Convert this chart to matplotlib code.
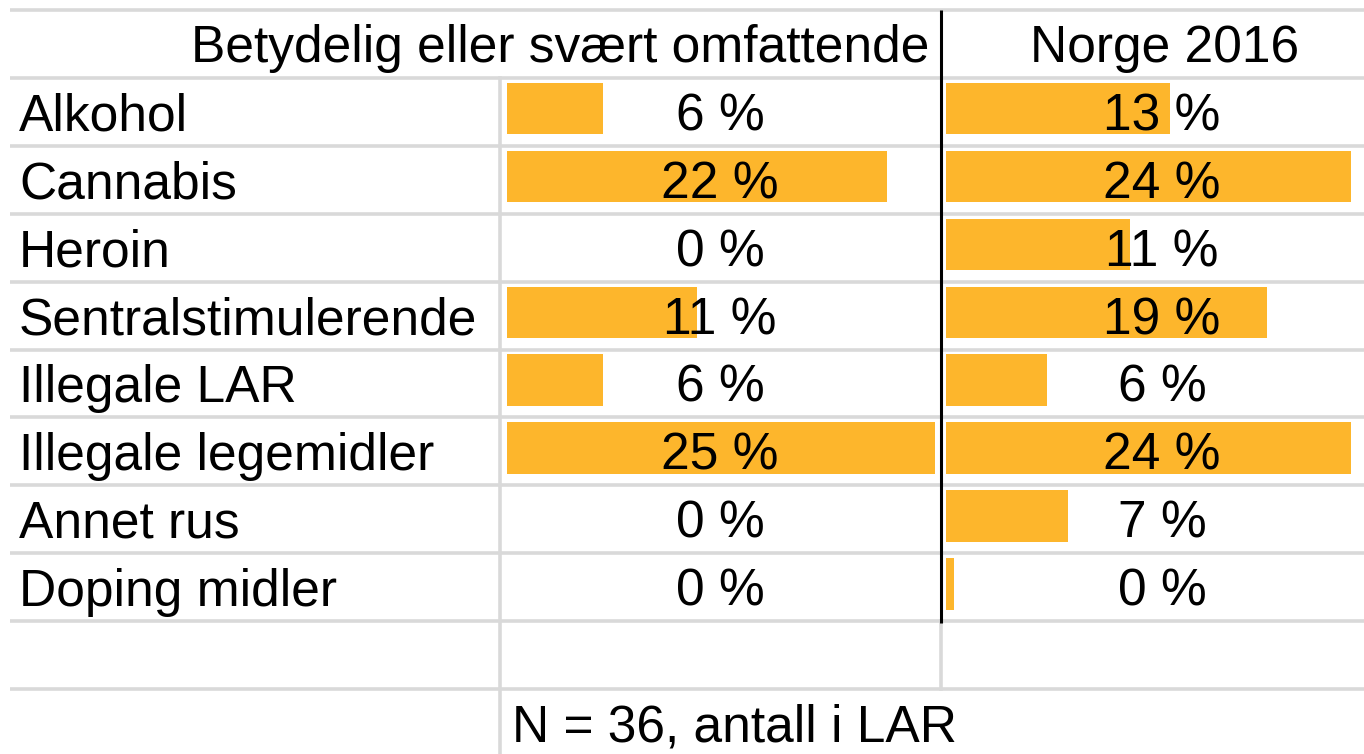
import matplotlib
matplotlib.use("Agg")
import matplotlib.pyplot as plt

plt.rcParams['font.family'] = ['Liberation Sans', 'DejaVu Sans']

# --- data ---
kategorier = ["Alkohol", "Cannabis", "Heroin", "Sentralstimulerende",
              "Illegale LAR", "Illegale legemidler", "Annet rus", "Doping midler"]
lokal = [5.6, 22.2, 0.0, 11.1, 5.6, 25.0, 0.0, 0.0]
norge = [13.3, 24.0, 10.9, 19.0, 6.0, 24.0, 7.2, 0.5]
tittel_lokal = "Betydelig eller svært omfattende"
tittel_norge = "Norge 2016"
fotnote = "N = 36, antall i LAR"

W, H = 1364, 754
ORANSJE = "#fdb62c"
GRAA = "#d9d9d9"
FS = 37.1

fig = plt.figure(figsize=(W / 100, H / 100), dpi=100)
ax = fig.add_axes([0, 0, 1, 1])
ax.set_xlim(0, W)
ax.set_ylim(H, 0)
ax.axis("off")
ax.patch.set_visible(False)
ax.set_zorder(5)  # rutenett og tekst over stolpene

# rutenett som i regnearket
topp = 10
rad_h = 67.9
x_a, x_b, x_c = 10, 500, 941
n_rader = len(kategorier)

for i in range(n_rader + 3):
    y = topp + i * rad_h
    ax.plot([x_a, W], [y, y], color=GRAA, lw=2.6, zorder=1, solid_capstyle="butt")

y_slutt_data = topp + (n_rader + 1) * rad_h
ax.plot([x_b, x_b], [topp + rad_h, H], color=GRAA, lw=2.6, zorder=1)
ax.plot([x_c, x_c], [y_slutt_data, y_slutt_data + rad_h], color=GRAA, lw=2.6, zorder=1)
ax.plot([x_c, x_c], [topp, y_slutt_data + 1.5], color="black", lw=2.2, zorder=4,
        solid_capstyle="butt")


def fig_box(x0, x1, y0, y1):
    return [x0 / W, 1 - y1 / H, (x1 - x0) / W, (y1 - y0) / H]


# datastolper, skalert til maks i hver kolonne
y0 = topp + rad_h
for verdier, xs, xe in [(lokal, 507, 935), (norge, 946, 1351)]:
    bx = fig.add_axes(fig_box(xs, xe, y0, y_slutt_data))
    bx.set_zorder(0)
    bx.set_xlim(0, max(verdier))
    bx.set_ylim(n_rader - 0.5, -0.5)
    bx.barh(range(n_rader), verdier, height=0.76, left=0,
            color=ORANSJE, zorder=2)
    # flytt stolpene litt opp i cellen
    for p in bx.patches:
        p.set_y(p.get_y() - 0.047)
    bx.axis("off")
    bx.patch.set_visible(False)

# tekst
ax.text(929, topp + rad_h / 2 + 18.5, tittel_lokal, ha="right", va="baseline",
        fontsize=FS, zorder=5)
ax.text(1165, topp + rad_h / 2 + 18.5, tittel_norge, ha="center", va="baseline",
        fontsize=FS, zorder=5)

for i, navn in enumerate(kategorier):
    yb = topp + (i + 1.5) * rad_h + 18.5
    ax.text(19, yb, navn, ha="left", va="baseline", fontsize=FS, zorder=5)
    ax.text(720, yb, f"{lokal[i]:.0f} %", ha="center", va="baseline",
            fontsize=FS, zorder=5)
    ax.text(1162, yb, f"{norge[i]:.0f} %", ha="center", va="baseline",
            fontsize=FS, zorder=5)

ax.text(512, topp + (n_rader + 2.5) * rad_h + 18.5, fotnote, ha="left",
        va="baseline", fontsize=FS, zorder=5)

fig.savefig("out.png", dpi=100)
